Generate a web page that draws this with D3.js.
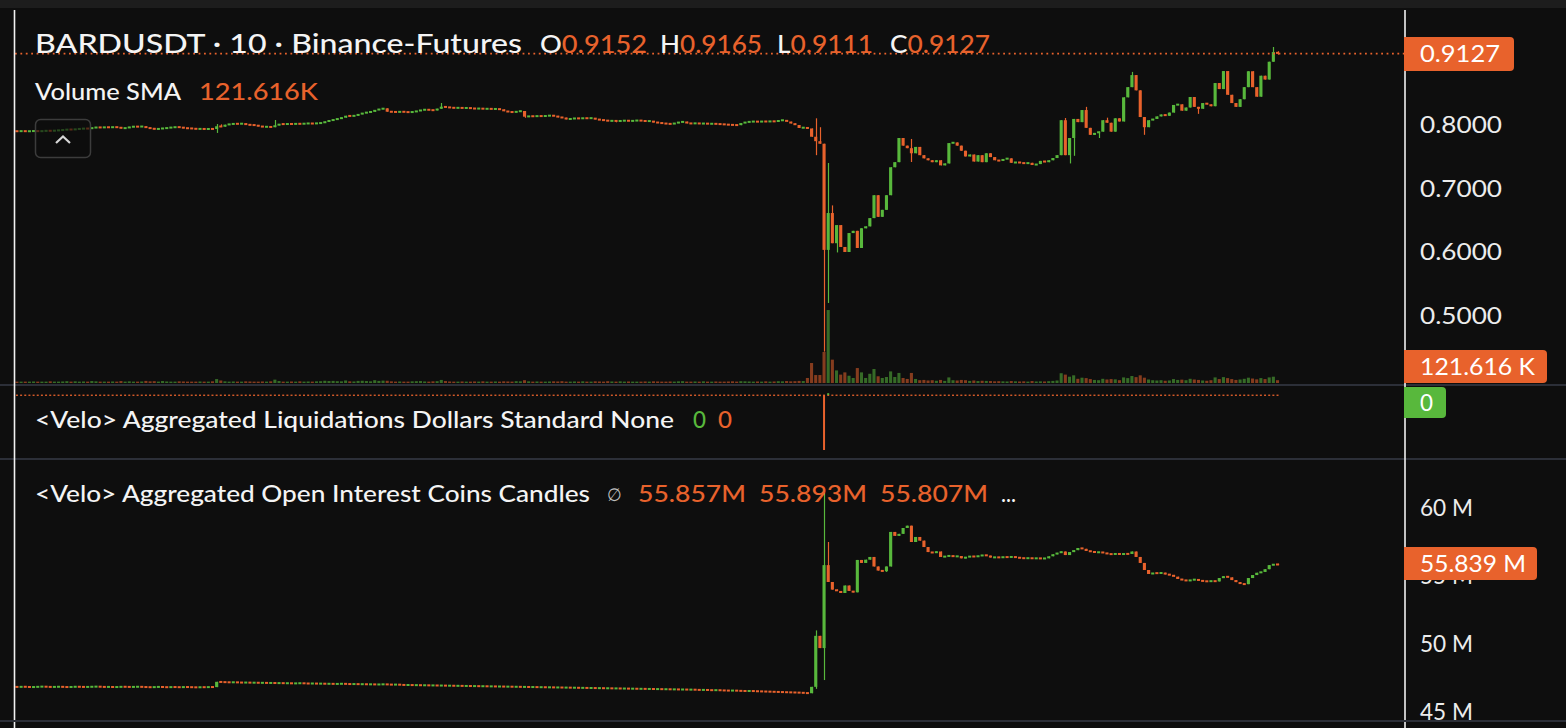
<!DOCTYPE html>
<html><head><meta charset="utf-8">
<script src="https://cdn.jsdelivr.net/npm/d3@7"></script>
<style>html,body{margin:0;padding:0;background:#0e0e0e;overflow:hidden}svg{display:block}text{font-family:Lato,"Noto Sans",sans-serif}</style>
</head><body>
<svg id="c" width="1566" height="728"></svg>
<script>
// ---------- DATA ----------
const firstOpen = 0.7910;
const closes = [
.7908,.7906,.7910,.7905,.7908,.7911,.7906,.7910,.7915,.7912,
.7918,.7922,.7928,.7935,.7932,.7940,.7945,.7950,.7948,.7962,
.7968,.7965,.7970,.7968,.7972,.7969,.7953,.7958,.7975,.7980,
.7978,.7983,.7960,.7952,.7938,.7948,.7952,.7960,.7968,.7972,
.7970,.7955,.7953,.7948,.7942,.7945,.7940,.7944,.7942,.7985,
.7978,.8010,.8018,.8025,.8022,.8028,.8010,.8005,.8002,.7985,
.7975,.7978,.7970,.8000,.8020,.8018,.8022,.8020,.8025,.8022,
.8028,.8030,.8026,.8034,.8036,.8060,.8075,.8090,.8105,.8120,
.8150,.8145,.8152,.8175,.8193,.8205,.8214,.8241,.8255,.8267,
.8214,.8212,.8208,.8215,.8210,.8205,.8212,.8225,.8241,.8248,
.8240,.8236,.8260,.8293,.8285,.8278,.8272,.8277,.8270,.8275,
.8266,.8262,.8265,.8258,.8261,.8256,.8258,.8250,.8222,.8212,
.8205,.8218,.8225,.8135,.8145,.8140,.8148,.8142,.8150,.8153,
.8148,.8126,.8120,.8094,.8105,.8110,.8108,.8113,.8110,.8115,
.8094,.8085,.8078,.8068,.8072,.8066,.8070,.8075,.8068,.8071,
.8078,.8070,.8065,.8068,.8047,.8040,.8030,.8025,.8020,.8035,
.8050,.8057,.8031,.8028,.8033,.8025,.8030,.8022,.8026,.8020,
.8018,.8012,.8008,.8005,.8002,.8035,.8050,.8057,.8060,.8055,
.8062,.8058,.8064,.8060,.8075,.8083,.8057,.8030,.8005,.7958,
.7966,
.7950,.782,.775,.771,.604,
.662,.6145,.643,.6086,.6007,.6305,.634,.607,.638,.641,
.654,.690,.656,.667,.690,.734,.742,.780,.768,.764,
.756,.766,.753,.748,.745,.742,.745,.737,.740,.772,
.773,.768,.760,.751,.754,.743,.753,.742,.756,.750,
.745,.744,.747,.748,.741,.742,.741,.740,.741,.7375,
.739,.744,.742,.745,.7485,.753,.808,.753,.780,.810,
.805,.824,.796,.785,.788,.790,.808,.804,.790,.811,
.806,.844,.860,.879,.855,.813,.797,.808,.810,.814,
.817,.815,.820,.832,.833,.823,.828,.8445,.829,.826,
.835,.833,.830,.8665,.857,.8853,.848,.835,.829,.841,
.860,.885,.860,.845,.878,.872,.900,.9152,.9127
];
// [index, high, low] for candles with visible wicks
const priceWicks = [
[49,.802,.788],[50,.8015,null],[63,.8083,null],[103,.8351,null],[123,null,.8118],[145,null,.8047],
[193,.811,.753],[194,.797,null],[195,null,.444],[196,.7407,.5205],[197,.674,null],[198,null,.600],
[216,.7785,.7423],[253,.8115,null],[254,null,.740],[255,null,.752],[258,.829,null],[261,null,.780],
[263,.812,null],[269,.884,null],[272,null,.785],[285,null,.818],[303,.9232,null],[304,.9165,.9111]
];
// volume in K
const volumes = [
9,8,10,7,9,11,8,9,10,12, 9,10,11,13,9,12,10,11,9,14, 12,9,10,8,11,9,14,10,12,9,
10,11,15,12,13,10,14,11,9,10, 12,11,9,10,8,11,10,9,12,28, 18,12,10,11,9,10,12,11,10,9,
11,10,12,24,14,10,9,11,10,12, 9,11,10,12,13,16,14,15,13,12, 18,12,11,15,16,14,12,20,15,17,
16,12,10,11,9,10,12,13,14,11, 10,12,13,22,14,11,10,9,11,10, 9,11,10,12,9,10,11,10,12,11,
10,13,12,20,12,10,11,9,10,11, 12,11,13,10,9,11,10,12,9,10, 12,11,10,13,11,10,12,9,11,10,
9,10,11,10,12,11,10,9,11,10, 12,13,10,9,11,10,12,9,10,11, 10,9,11,12,10,13,12,11,10,11,
10,12,9,11,13,12,14,12,13,15, 14,
36,143,57,57,222,522,167,90,60,76, 52,36,107,76,36,66,100,48,36,43,
83,43,72,36,29,72,29,20,22,18, 20,16,22,15,40,20,18,22,20,15,
18,14,16,15,14,12,13,12,11,14, 12,11,12,10,14,11,12,11,13,15,
18,70,60,45,55,30,38,35,28,22, 20,30,25,28,26,20,40,35,50,42,
55,38,25,20,18,20,16,18,28,22, 24,20,30,25,22,18,16,20,40,28,
42,35,28,22,25,30,38,32,26,35, 28,40,45,20
];
// liquidations ($K): longs (down, orange) and shorts (up, green)
const liqLong = [[194,12],[195,550],[196,8]];
const liqShort = [[196,18]];
// open interest (M coins)
const oiFirstOpen = 46.85;
const oiCloses = [
46.85,46.84,46.86,46.85,46.83,46.84,46.86,46.87,46.85,46.84,
46.85,46.86,46.84,46.83,46.85,46.86,46.85,46.84,46.85,46.86,
46.87,46.85,46.84,46.85,46.83,46.84,46.86,46.85,46.84,46.85,
46.86,46.84,46.83,46.82,46.84,46.85,46.83,46.82,46.84,46.83,
46.82,46.84,46.83,46.82,46.81,46.83,46.82,46.84,46.83,
47.22,
47.20,47.19,47.18,47.19,47.17,47.16,47.17,47.15,47.16,47.14,
47.15,47.13,47.14,47.12,47.13,47.11,47.12,47.10,47.11,47.12,
47.10,47.09,47.10,47.08,47.09,47.07,47.08,47.06,47.07,47.08,
47.06,47.05,47.06,47.04,47.05,47.03,47.04,47.02,47.03,47.04,
47.02,47.01,47.02,47.00,
46.98,46.99,46.97,46.98,46.96,46.97,46.95,46.96,46.94,46.95,
46.93,46.94,46.92,46.93,46.91,46.92,46.90,46.91,46.89,46.90,
46.88,46.89,46.87,46.88,46.86,46.87,46.85,46.86,46.84,46.85,
46.83,46.84,46.82,46.83,46.81,46.82,46.80,46.81,46.79,46.80,
46.78,46.79,46.77,46.78,46.76,46.77,46.75,46.76,
46.74,46.75,46.73,46.74,46.72,46.73,46.71,46.72,46.70,46.71,
46.69,46.70,46.68,46.69,46.67,46.68,46.66,46.67,46.65,46.66,
46.64,46.65,46.63,46.62,46.63,46.61,46.60,46.61,46.59,46.58,
46.57,46.58,46.56,46.55,46.54,46.55,46.53,46.52,46.51,46.50,
46.49,46.48,46.47,46.46,46.45,46.44,46.43,46.42,46.40,46.38,
46.85,50.6,49.7,55.8,54.56,54.0,53.9,53.75,54.3,53.9,
53.8,56.18,55.96,56.2,56.4,55.7,55.4,55.35,55.7,58.24,
57.95,58.1,58.53,58.7,57.5,57.87,57.6,57.13,56.76,56.7,
56.8,56.4,56.45,56.5,56.42,56.47,56.3,56.4,56.45,56.42,
56.48,56.54,56.50,56.36,56.38,56.36,56.40,56.38,56.42,56.36,
56.32,56.30,56.32,56.29,56.31,56.28,56.30,56.45,56.6,56.7,
56.8,56.54,56.76,56.9,57.06,57.0,56.84,56.80,56.73,56.76,
56.70,56.62,56.6,56.64,56.6,56.63,56.62,56.8,56.4,55.96,
55.44,55.15,55.22,55.2,55.24,55.12,55.08,54.95,54.78,54.7,
54.65,54.7,54.76,54.66,54.62,54.6,54.64,54.6,54.85,54.98,
54.9,54.7,54.55,54.41,54.40,54.85,55.07,55.24,55.3,55.5,
55.8,55.857,55.839
];
const oiWicks = [[193,51.0,46.7],[195,61.1,47.35],[196,57.5,null],[210,null,55.3],[304,55.893,55.807]];

const priceTicks = [0.8, 0.7, 0.6, 0.5];
const oiTicks = [60, 55, 50, 45];
const lastPrice = 0.9127, volSMA = 121.616, lastOI = 55.839;
const titleName = "BARDUSDT · 10 · Binance-Futures";
const ohlcLabels = ["O","H","L","C"];
const ohlcValues = ["0.9152","0.9165","0.9111","0.9127"];
const liqTitle = "<Velo> Aggregated Liquidations Dollars Standard None";
const oiTitle = "<Velo> Aggregated Open Interest Coins Candles";
const oiValues = ["55.857M","55.893M","55.807M"];

// ---------- DRAW ----------
const W = 1566, H = 728;
const GREEN = "#58b83c", ORANGE = "#e8622c", TXT = "#ececec", SEP = "#2c2f38";
const svg = d3.select("#c");
svg.append("rect").attr("width", W).attr("height", H).attr("fill", "#0e0e0e");
svg.append("rect").attr("width", W).attr("height", 8).attr("fill", "#1d1d1d");

const N = closes.length;
const x = d3.scaleBand().domain(d3.range(N)).range([10.7, 1279.6]);
const cx = i => x(i) + x.bandwidth() / 2;
const bw = x.bandwidth() * 0.74;

const yP = d3.scaleLinear().domain([0.5, 0.8]).range([316, 125.3]);
const yV = d3.scaleLinear().domain([0, volSMA]).range([383, 366]);
const yL = d3.scaleLinear().domain([0, 550]).range([395, 450]);
const yO = d3.scaleLinear().domain([50, 60]).range([644, 508]);

function buildCandles(cl, o0, wicks) {
  const wm = new Map(wicks.map(w => [w[0], w]));
  return cl.map((c, i) => {
    const o = i === 0 ? o0 : cl[i - 1];
    let h = Math.max(o, c), l = Math.min(o, c);
    const w = wm.get(i);
    if (w) { if (w[1] != null) h = Math.max(h, w[1]); if (w[2] != null) l = Math.min(l, w[2]); }
    return { i, o, c, h, l, up: c >= o };
  });
}
const candles = buildCandles(closes, firstOpen, priceWicks);
const oiCandles = buildCandles(oiCloses, oiFirstOpen, oiWicks);

const defs = svg.append("defs");
function clip(id, x0, y0, w, h) {
  defs.append("clipPath").attr("id", id).append("rect").attr("x", x0).attr("y", y0).attr("width", w).attr("height", h);
}
clip("cp", 15, 10, 1389, 375);
clip("cl", 15, 386, 1389, 72);
clip("co", 15, 460, 1389, 261);

// price pane
const gP = svg.append("g").attr("clip-path", "url(#cp)");
gP.append("g").selectAll("rect").data(volumes).join("rect")
  .attr("x", (d, i) => cx(i) - bw / 2).attr("width", bw)
  .attr("y", d => Math.min(yV(d), 381.6)).attr("height", d => Math.max(1.4, 383 - yV(d)))
  .attr("fill", (d, i) => candles[i].up ? GREEN : ORANGE).attr("fill-opacity", 0.55);

function drawCandles(g, data, y) {
  g.append("g").selectAll("line").data(data).join("line")
    .attr("x1", d => Math.round(cx(d.i)) + 0.5).attr("x2", d => Math.round(cx(d.i)) + 0.5)
    .attr("y1", d => y(d.h)).attr("y2", d => y(d.l))
    .attr("stroke", d => d.up ? GREEN : ORANGE).attr("stroke-width", 1.2);
  g.append("g").selectAll("rect").data(data).join("rect")
    .attr("x", d => cx(d.i) - bw / 2).attr("width", bw)
    .attr("y", d => { const a = y(Math.max(d.o, d.c)), b = y(Math.min(d.o, d.c)); return b - a < 2 ? (a + b) / 2 - 1 : a; })
    .attr("height", d => Math.max(2, y(Math.min(d.o, d.c)) - y(Math.max(d.o, d.c))))
    .attr("fill", d => d.up ? GREEN : ORANGE);
}
drawCandles(gP, candles, yP);

// current price line
svg.append("line").attr("x1", 15).attr("x2", 1404).attr("y1", yP(lastPrice)).attr("y2", yP(lastPrice))
  .attr("stroke", ORANGE).attr("stroke-width", 1.6).attr("stroke-dasharray", "1.8,3.6");

// liquidation pane
const gL = svg.append("g").attr("clip-path", "url(#cl)");
const lm = new Map(liqLong);
gL.append("g").selectAll("rect").data(d3.range(N)).join("rect")
  .attr("x", i => cx(i) - 1).attr("width", 2)
  .attr("y", 394.6).attr("height", i => Math.max(1.3, yL(lm.get(i) || 0) - 394.6))
  .attr("fill", ORANGE);
gL.append("g").selectAll("rect").data(liqShort).join("rect")
  .attr("x", d => cx(d[0]) - 1).attr("width", 2)
  .attr("y", d => 395 - (yL(d[1]) - 395)).attr("height", d => yL(d[1]) - 395)
  .attr("fill", GREEN);

// OI pane
const gO = svg.append("g").attr("clip-path", "url(#co)");
drawCandles(gO, oiCandles, yO);

// separators and borders
[385, 459, 721].forEach(yy => svg.append("line").attr("x1", 0).attr("x2", W).attr("y1", yy).attr("y2", yy)
  .attr("stroke", SEP).attr("stroke-width", 2));
svg.append("line").attr("x1", 14.5).attr("x2", 14.5).attr("y1", 10).attr("y2", H).attr("stroke", "#f2f2f2").attr("stroke-width", 1.6);
svg.append("line").attr("x1", 1405).attr("x2", 1405).attr("y1", 10).attr("y2", H).attr("stroke", "#f2f2f2").attr("stroke-width", 1.6);

// axes
function styleAxis(g, len) {
  g.select(".domain").remove();
  g.selectAll("text").attr("fill", TXT).attr("font-size", 23).attr("font-family", "Lato")
    .attr("textLength", len).attr("lengthAdjust", "spacingAndGlyphs");
}
svg.append("g").attr("transform", "translate(1405,0)")
  .call(d3.axisRight(yP).tickValues(priceTicks).tickSize(0).tickPadding(15).tickFormat(d3.format(".4f")))
  .call(g => styleAxis(g, 82));
svg.append("g").attr("transform", "translate(1405,0)")
  .call(d3.axisRight(yO).tickValues(oiTicks).tickSize(0).tickPadding(15).tickFormat(d => d + " M"))
  .call(g => styleAxis(g, 53));
svg.append("line").attr("x1", 0).attr("x2", W).attr("y1", 721).attr("y2", 721).attr("stroke", SEP).attr("stroke-width", 2);

function T(x0, y0, s, fill, size, len, weight) {
  const t = svg.append("text").attr("x", x0).attr("y", y0).attr("fill", fill).attr("font-size", size)
    .attr("font-weight", weight || 500).text(s);
  if (len) t.attr("textLength", len).attr("lengthAdjust", "spacingAndGlyphs");
  return t;
}
function tag(y0, w, h, fill, s, len) {
  svg.append("path").attr("d", `M1404,${y0}h${w - 4}a4,4 0 0 1 4,4v${h - 8}a4,4 0 0 1 -4,4h${-(w - 4)}z`).attr("fill", fill);
  T(1420, y0 + h / 2 + 8.3, s, "#ffffff", 23, len, 400);
}
tag(37, 110, 34, ORANGE, d3.format(".4f")(lastPrice), 80);
tag(350, 143, 33, ORANGE, "121.616 K", 115);
tag(387, 42, 31, GREEN, "0", 13);
tag(547, 133, 33, ORANGE, lastOI.toFixed(3) + " M", 106);

// titles
T(35, 53, titleName, "#f4f4f4", 27, 487);
const ohlcX = [[540, 107], [660, 102], [777, 96], [890, 100]];
ohlcLabels.forEach((l, k) => {
  const t = svg.append("text").attr("x", ohlcX[k][0]).attr("y", 53).attr("font-size", 25).attr("font-weight", 500)
    .attr("textLength", ohlcX[k][1]).attr("lengthAdjust", "spacingAndGlyphs");
  t.append("tspan").attr("fill", "#f4f4f4").text(l);
  t.append("tspan").attr("fill", ORANGE).text(ohlcValues[k]);
});
T(35, 100, "Volume SMA", "#f4f4f4", 23, 146);
T(199, 100, "121.616K", ORANGE, 23, 119);
T(35, 428, liqTitle, "#f4f4f4", 23, 639);
T(693, 428, "0", GREEN, 23, 13);
T(718, 428, "0", ORANGE, 23, 14);
T(35, 502, oiTitle, "#f4f4f4", 23, 555);
T(607, 501, "∅", "#bdbdbd", 18, 15, 400);
const oiX = [638, 759, 880];
oiValues.forEach((v, k) => T(oiX[k], 502, v, ORANGE, 23, 108));
T(1001, 502, "...", "#f4f4f4", 23, 15);

// collapse button
svg.append("rect").attr("x", 35.5).attr("y", 119.5).attr("width", 55).attr("height", 38).attr("rx", 5)
  .attr("fill", "#0e0e0e").attr("fill-opacity", 0.65).attr("stroke", "#3c3c3c").attr("stroke-width", 1.5);
svg.append("path").attr("d", "M56,143 L63,136.5 L70,143").attr("fill", "none").attr("stroke", "#d6d6d6").attr("stroke-width", 2.2);
</script>
</body></html>
